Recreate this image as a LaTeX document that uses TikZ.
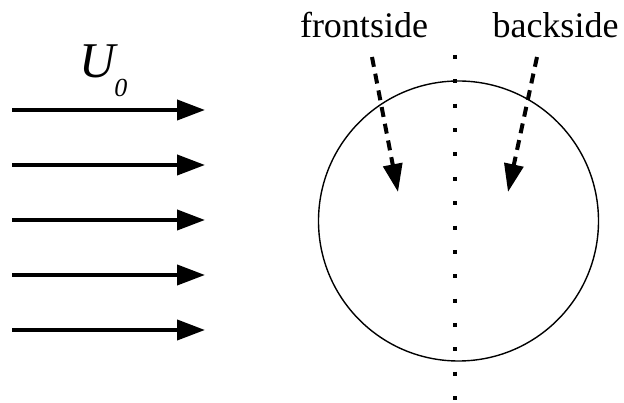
\documentclass[tikz,border=0pt]{standalone}
\usepackage{fontspec}
\setmainfont{Liberation Serif}
\usepackage{tikz}
\usetikzlibrary{arrows.meta, positioning}
\tikzset{
  flowarr/.style={-{Triangle[length=28pt,width=20pt]}, line width=4pt},
  sidearr/.style={-{Triangle[length=28pt,width=19pt]}, line width=4pt,
                  dash pattern=on 10pt off 7pt},
  sidelabel/.style={font=\fontsize{36}{40}\selectfont, inner sep=0pt, anchor=base},
  body/.style={draw, circle, line width=1.4pt, minimum size=280pt, inner sep=0pt},
  midline/.style={line width=4pt, dash pattern=on 4pt off 20.36pt},
}

\begin{document}
\begin{tikzpicture}[x=1pt, y=1pt]
        \useasboundingbox (0,0) rectangle (624,403);

        % incoming flow
        \coordinate (in1) at (12,293);  \coordinate (out1) at (205,293);
        \coordinate (in2) at (12,238);  \coordinate (out2) at (205,238);
        \coordinate (in3) at (12,183);  \coordinate (out3) at (205,183);
        \coordinate (in4) at (12,128);  \coordinate (out4) at (205,128);
        \coordinate (in5) at (12,73);   \coordinate (out5) at (205,73);
        \draw[flowarr] (in1) -- (out1);
        \draw[flowarr] (in2) -- (out2);
        \draw[flowarr] (in3) -- (out3);
        \draw[flowarr] (in4) -- (out4);
        \draw[flowarr] (in5) -- (out5);

        \node[inner sep=0pt, anchor=base west] (uzero) at (79,325)
          {\fontsize{50}{50}\selectfont\itshape U\hspace{-1pt}\raisebox{-19pt}{\fontsize{26}{26}\selectfont 0}};

        % cylinder and dividing line
        \node[body] (cyl) at (458.5,182) {};
        \coordinate (ltop) at (455,348);
        \coordinate (lbot) at (455,2);
        \draw[midline] (ltop) -- (lbot);

        % labels
        \node[sidelabel] (front) at (364,365) {frontside};
        \node[sidelabel] (back)  at (555.5,365) {backside};
        \coordinate (fstart) at (372,346);  \coordinate (fend) at (398,211);
        \coordinate (bstart) at (537,346);  \coordinate (bend) at (508,211);
        \draw[sidearr] (fstart) -- (fend);
        \draw[sidearr] (bstart) -- (bend);
      \end{tikzpicture}
\end{document}
